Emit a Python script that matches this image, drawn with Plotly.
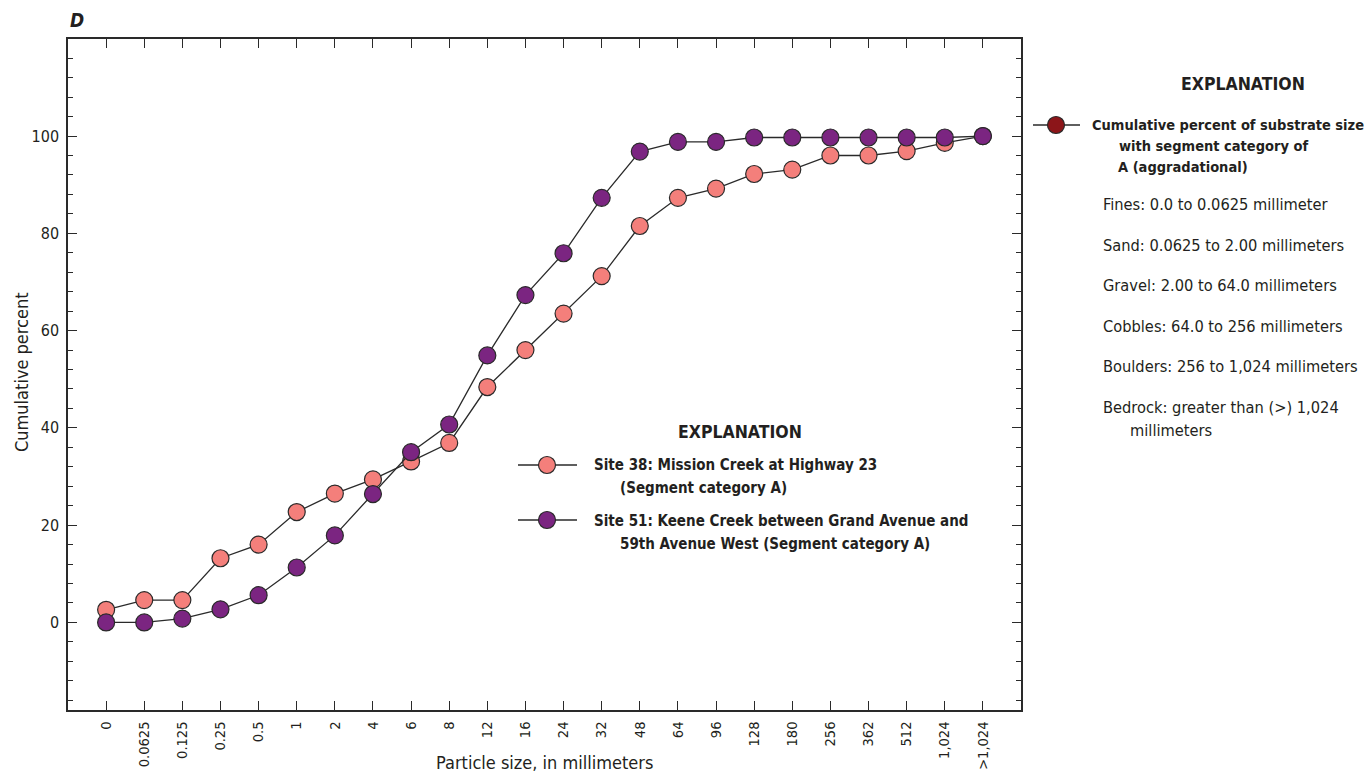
import plotly.graph_objects as go

# Particle-size classes (categorical x axis)
size_classes = ["0", "0.0625", "0.125", "0.25", "0.5", "1", "2", "4", "6", "8",
                "12", "16", "24", "32", "48", "64", "96", "128", "180", "256",
                "362", "512", "1,024", ">1,024"]

# Cumulative percent finer, by site
site38_pct = [2.6, 4.6, 4.6, 13.2, 16.0, 22.7, 26.5, 29.4, 33.1, 36.9,
              48.4, 56.0, 63.5, 71.2, 81.5, 87.3, 89.2, 92.2, 93.1, 96.0,
              96.0, 96.9, 98.6, 100.0]
site51_pct = [0.0, 0.0, 0.8, 2.7, 5.6, 11.3, 17.9, 26.4, 35.0, 40.7,
              54.9, 67.3, 75.9, 87.3, 96.8, 98.8, 98.8, 99.7, 99.7, 99.7,
              99.7, 99.7, 99.7, 100.0]

W, H = 1366, 773
FONT = "Liberation Sans Narrow, DejaVu Sans Condensed, Arial Narrow, sans-serif"
PINK = "#F47F7B"
PURPLE = "#7B2581"
DARKRED = "#8C1519"
LINE = "#2a2a2a"
TXT = "#231f20"


def px(x):
    return x / W


def py(y):
    return 1 - y / H


x_idx = list(range(len(size_classes)))

fig = go.Figure()

for vals, color in [(site38_pct, PINK), (site51_pct, PURPLE)]:
    fig.add_trace(go.Scatter(
        x=x_idx, y=vals, mode="lines+markers",
        line=dict(color=LINE, width=1.3),
        marker=dict(size=17, color=color, line=dict(color=LINE, width=1.2)),
        showlegend=False, hoverinfo="skip", cliponaxis=False,
    ))

# Legend symbols: a short line with a circle on it
shapes = []
legend_syms = [
    (518, 577, 465, 547, PINK),
    (518, 577, 520, 547, PURPLE),
    (1033, 1080, 125, 1056, DARKRED),
]
R = 8.5
for x0, x1, yy, mx, color in legend_syms:
    shapes.append(dict(type="line", xref="paper", yref="paper",
                       x0=px(x0), x1=px(x1), y0=py(yy), y1=py(yy),
                       line=dict(color=LINE, width=1.3)))
    shapes.append(dict(type="circle", xref="paper", yref="paper",
                       xsizemode="pixel", ysizemode="pixel",
                       xanchor=px(mx), yanchor=py(yy),
                       x0=-R, x1=R, y0=-R, y1=R,
                       fillcolor=color, line=dict(color=LINE, width=1.2)))

ann = []


def text(x, y, s, size=14, bold=False, anchor="left", **kw):
    ann.append(dict(
        x=px(x), y=py(y), xref="paper", yref="paper", text=s, showarrow=False,
        xanchor=anchor, yanchor="middle",
        font=dict(family=FONT, size=size, color=TXT, weight="bold" if bold else "normal"),
        **kw))


# Panel letter
text(68, 20, "<i>D</i>", size=19, bold=True)

# Axis titles
text(544, 762, "Particle size, in millimeters", size=18, anchor="center")
ann.append(dict(x=px(21), y=py(372), xref="paper", yref="paper",
                text="Cumulative percent", showarrow=False, textangle=-90,
                xanchor="center", yanchor="middle",
                font=dict(family=FONT, size=18, color=TXT)))

# In-plot explanation
text(740, 432, "EXPLANATION", size=17.5, bold=True, anchor="center")
text(592, 465, "Site 38: Mission Creek at Highway 23", size=15, bold=True)
text(618, 488, "(Segment category A)", size=15, bold=True)
text(592, 521, "Site 51: Keene Creek between Grand Avenue and", size=15, bold=True)
text(618, 544, "59th Avenue West (Segment category A)", size=15, bold=True)

# Side explanation
text(1243, 84, "EXPLANATION", size=17.5, bold=True, anchor="center")
text(1090, 125, "Cumulative percent of substrate size", size=14.5, bold=True)
text(1117, 146, "with segment category of", size=14.5, bold=True)
text(1116, 167, "A (aggradational)", size=14.5, bold=True)
classes_text = [
    (205, "Fines: 0.0 to 0.0625 millimeter"),
    (245, "Sand: 0.0625 to 2.00 millimeters"),
    (285, "Gravel: 2.00 to 64.0 millimeters"),
    (326, "Cobbles: 64.0 to 256 millimeters"),
    (366, "Boulders: 256 to 1,024 millimeters"),
    (407, "Bedrock: greater than (>) 1,024"),
]
for yy, s in classes_text:
    text(1101, yy, s, size=16.3)
text(1128, 430, "millimeters", size=16.3)

fig.update_layout(
    width=W, height=H,
    margin=dict(l=0, r=0, t=0, b=0),
    paper_bgcolor="white", plot_bgcolor="white",
    showlegend=False,
    annotations=ann,
    shapes=shapes,
    xaxis=dict(
        domain=[px(68), px(1021)], range=[-1, 24],
        tickmode="array", tickvals=x_idx, ticktext=size_classes,
        tickangle=-90, ticks="inside", ticklen=9, tickwidth=1.2, tickcolor=LINE,
        ticklabelstandoff=4,
        showline=True, linecolor=LINE, linewidth=1.5, mirror="ticks",
        showgrid=False, zeroline=False,
        tickfont=dict(family=FONT, size=14.5, color=TXT),
    ),
    yaxis=dict(
        domain=[py(710), py(39)], range=[-18, 119.95],
        tickmode="linear", tick0=0, dtick=20,
        ticks="inside", ticklen=9, tickwidth=1.2, tickcolor=LINE,
        ticklabelstandoff=4,
        minor=dict(tick0=0, dtick=4, ticks="inside",
                   ticklen=5, tickwidth=1.2, tickcolor=LINE),
        showline=True, linecolor=LINE, linewidth=1.5, mirror="ticks",
        showgrid=False, zeroline=False,
        tickfont=dict(family=FONT, size=16, color=TXT),
    ),
)

fig.write_html("out.html")
